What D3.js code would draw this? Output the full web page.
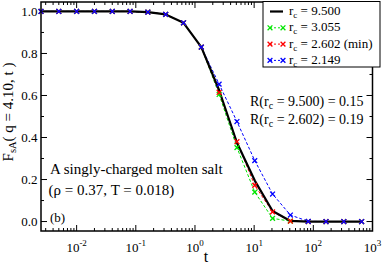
<!DOCTYPE html>
<html><head><meta charset="utf-8">
<script src="https://cdn.jsdelivr.net/npm/d3@7"></script>
<style>
html,body{margin:0;padding:0;background:#fff;}
svg{display:block;}
text{font-family:'Liberation Serif','DejaVu Serif',serif;}
</style></head>
<body>
<svg id="c" width="382" height="264"></svg>
<script>
// ---- data ----
const times = [0.0025,0.005,0.01,0.02,0.04,0.08,0.16,0.32,0.64,1.28,2.56,5.12,10.24,20.48,40.96,81.92,163.84,327.68,655.36];
const rc9500 = [1.0,1.0,1.0,1.0,1.0,1.0,0.997,0.986,0.946,0.830,0.625,0.375,0.195,0.050,0.003,0.0,0.0,0.0,0.0];
const rc3055 = [1.0,1.0,1.0,1.0,1.0,1.0,0.997,0.986,0.946,0.830,0.605,0.352,0.140,0.015,0.002,0.0,0.0,0.0,0.0];
const rc2602 = [1.0,1.0,1.0,1.0,1.0,1.0,0.997,0.986,0.946,0.830,0.615,0.380,0.172,0.046,0.002,0.0,0.0,0.0,0.0];
const rc2149 = [1.0,1.0,1.0,1.0,1.0,1.0,0.997,0.986,0.946,0.830,0.654,0.476,0.290,0.131,0.031,0.001,0.0,0.0,0.0];
const xMajor = [0.01,0.1,1,10,100,1000];
const xMajorExp = ["-2","-1","0","1","2","3"];
const yMajor = [0.0,0.2,0.4,0.6,0.8,1.0];
const yMinor = [0.1,0.3,0.5,0.7,0.9];
const legendVals = ["9.500","3.055","2.602 (min)","2.149"];

const series = [
  {name:"9.500", vals:rc9500, color:"#000000", dashed:false, marker:false},
  {name:"3.055", vals:rc3055, color:"#00e600", dashed:true, marker:true},
  {name:"2.602", vals:rc2602, color:"#ff0000", dashed:true, marker:true},
  {name:"2.149", vals:rc2149, color:"#0000ff", dashed:true, marker:true}
];

const FF = "'Liberation Serif','DejaVu Serif',serif";
const svg = d3.select("#c");
const L=41, R=372.5, T=2, B=231;
const x = d3.scaleLog().domain([0.0025,1000]).range([L,R]);
const y = d3.scaleLinear().domain([-0.045,1.045]).range([B,T]);

// minor x ticks
const xMinor=[];
[0.001,0.01,0.1,1,10,100].forEach(d=>{for(let k=2;k<=9;k++){const v=d*k; if(v>=0.0025&&v<=1000) xMinor.push(v);}});

const g = svg.append("g").attr("font-family",FF);
// ticks (inward on all four sides)
const tk = g.append("g").attr("stroke","#000").attr("stroke-width",1);
xMajor.forEach(v=>{const px=x(v);
  tk.append("line").attr("x1",px).attr("x2",px).attr("y1",B).attr("y2",B-6);
  tk.append("line").attr("x1",px).attr("x2",px).attr("y1",T).attr("y2",T+6);});
xMinor.forEach(v=>{const px=x(v);
  tk.append("line").attr("x1",px).attr("x2",px).attr("y1",B).attr("y2",B-3);
  tk.append("line").attr("x1",px).attr("x2",px).attr("y1",T).attr("y2",T+3);});
yMajor.forEach(v=>{const py=y(v);
  tk.append("line").attr("x1",L).attr("x2",L+6).attr("y1",py).attr("y2",py);
  tk.append("line").attr("x1",R).attr("x2",R-6).attr("y1",py).attr("y2",py);});
yMinor.forEach(v=>{const py=y(v);
  tk.append("line").attr("x1",L).attr("x2",L+3).attr("y1",py).attr("y2",py);
  tk.append("line").attr("x1",R).attr("x2",R-3).attr("y1",py).attr("y2",py);});

// tick labels
yMajor.forEach(v=>{
  g.append("text").attr("x",37.5).attr("y",y(v)+4.5).attr("text-anchor","end")
   .attr("font-size",13).text(v.toFixed(1));});
xMajor.forEach((v,i)=>{
  const t=g.append("text").attr("x",x(v)).attr("y",252).attr("text-anchor","middle").attr("font-size",13);
  t.append("tspan").text("10");
  t.append("tspan").attr("dy",-6).attr("font-size",9).text(xMajorExp[i]);
});
g.append("text").attr("x",206).attr("y",262).attr("text-anchor","middle").attr("font-size",16).text("t");

// y label
const yl=g.append("text").attr("transform","translate(13,112) rotate(-90)").attr("text-anchor","middle").attr("font-size",15);
yl.append("tspan").text("F");
yl.append("tspan").attr("dy",3).attr("font-size",10.5).text("sA");
yl.append("tspan").attr("dy",-3).text("( q = 4.10, t )");

// lines
const line = d3.line().x((d,i)=>x(times[i])).y(d=>y(d));
const plot = g.append("g");
[series[1],series[2],series[3],series[0]].forEach(s=>{
  plot.append("path").datum(s.vals).attr("d",line).attr("fill","none")
    .attr("stroke",s.color).attr("stroke-width",s.dashed?1:2.2)
    .attr("stroke-dasharray",s.dashed?"3,2":null).attr("stroke-linejoin","round");
});
function cross(sel,cx,cy,color){
  const r=2.4;
  sel.append("path").attr("d",`M${cx-r},${cy-r}L${cx+r},${cy+r}M${cx-r},${cy+r}L${cx+r},${cy-r}`)
   .attr("stroke",color).attr("stroke-width",1.3).attr("fill","none");
}
series.filter(s=>s.marker).forEach(s=>{
  s.vals.forEach((v,i)=>cross(plot,x(times[i]),y(v),s.color));
});

// frame
g.append("rect").attr("x",L).attr("y",T).attr("width",R-L).attr("height",B-T)
 .attr("fill","none").attr("stroke","#000").attr("stroke-width",1.5);

// legend
const lg=g.append("g");
lg.append("rect").attr("x",263).attr("y",1.5).attr("width",117).attr("height",65.5)
  .attr("fill","#fff").attr("stroke","#000").attr("stroke-width",1);
series.forEach((s,i)=>{
  const yy=11.5+i*16.3;
  lg.append("line").attr("x1",270).attr("x2",283).attr("y1",yy).attr("y2",yy)
    .attr("stroke",s.color).attr("stroke-width",s.dashed?1:2.2).attr("stroke-dasharray",s.dashed?"2,2":null);
  if(s.marker){cross(lg,270,yy,s.color);cross(lg,283,yy,s.color);}
  const t=lg.append("text").attr("x",289).attr("y",yy+3.5).attr("font-size",13);
  t.append("tspan").text("r");
  t.append("tspan").attr("dy",3).attr("font-size",9).text("c");
  t.append("tspan").attr("dy",-3).text(" = "+legendVals[i]);
});

// annotations
function rtext(yb,val,res){
  const t=g.append("text").attr("x",250).attr("y",yb).attr("font-size",14);
  t.append("tspan").text("R(r");
  t.append("tspan").attr("dy",3).attr("font-size",10).text("c");
  t.append("tspan").attr("dy",-3).text(" = "+val+") = "+res);
}
rtext(105.5,"9.500","0.15");
rtext(123.5,"2.602","0.19");
g.append("text").attr("x",50).attr("y",174).attr("font-size",15).text("A singly-charged molten salt");
g.append("text").attr("x",48.5).attr("y",194.5).attr("font-size",15).text("(\u03c1 = 0.37, T = 0.018)");
g.append("text").attr("x",50).attr("y",222).attr("font-size",13).text("(b)");
</script>
</body></html>
